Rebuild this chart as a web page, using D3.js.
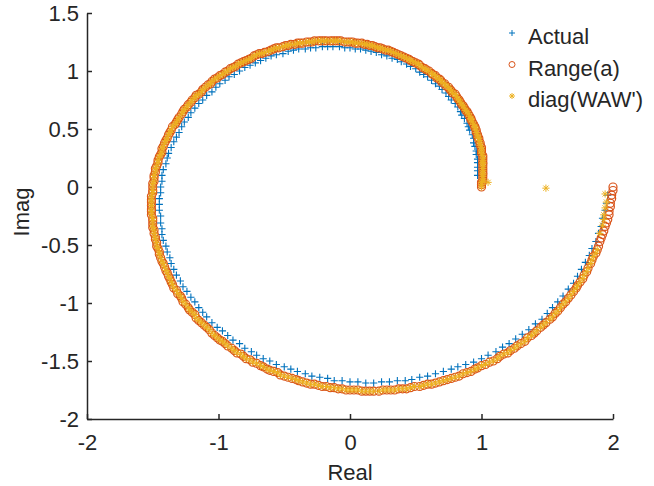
<!DOCTYPE html>
<html>
<head>
<meta charset="utf-8">
<script src="https://cdn.jsdelivr.net/npm/d3@7"></script>
<style>
  body { margin: 0; background: #fff; }
  svg text { font-family: "Liberation Sans", Arial, Helvetica, sans-serif; fill: #262626; }
</style>
</head>
<body>
<div id="chart"></div>
<script>
// Range(a): complex values, [real, imag]
var rangeA = [
[1.00,0.00],[1.00,0.02],[1.00,0.04],[1.01,0.05],[1.01,0.07],[1.01,0.09],[1.01,0.11],[1.01,0.12],[1.01,0.14],[1.01,0.16],
[1.01,0.18],[1.01,0.20],[1.01,0.21],[1.01,0.23],[1.01,0.25],[1.01,0.27],[1.00,0.29],[1.00,0.31],[1.00,0.32],[1.00,0.34],
[0.99,0.36],[0.99,0.38],[0.98,0.40],[0.98,0.42],[0.97,0.43],[0.97,0.45],[0.96,0.47],[0.96,0.49],[0.95,0.51],[0.95,0.52],
[0.94,0.54],[0.93,0.56],[0.92,0.58],[0.92,0.59],[0.91,0.61],[0.90,0.63],[0.89,0.65],[0.88,0.66],[0.87,0.68],[0.86,0.70],
[0.85,0.71],[0.84,0.73],[0.83,0.75],[0.82,0.76],[0.81,0.78],[0.80,0.80],[0.78,0.81],[0.77,0.83],[0.76,0.84],[0.75,0.86],
[0.73,0.87],[0.72,0.89],[0.70,0.90],[0.69,0.92],[0.68,0.93],[0.66,0.94],[0.65,0.96],[0.63,0.97],[0.62,0.98],[0.60,1.00],
[0.58,1.01],[0.57,1.02],[0.55,1.03],[0.53,1.05],[0.52,1.06],[0.50,1.07],[0.48,1.08],[0.46,1.09],[0.45,1.10],[0.43,1.11],
[0.41,1.12],[0.39,1.13],[0.37,1.14],[0.35,1.15],[0.33,1.16],[0.31,1.17],[0.29,1.18],[0.27,1.18],[0.25,1.19],[0.23,1.20],
[0.21,1.20],[0.19,1.21],[0.17,1.22],[0.15,1.22],[0.13,1.23],[0.11,1.23],[0.09,1.24],[0.06,1.24],[0.04,1.24],[0.02,1.25],
[0.00,1.25],[-0.02,1.25],[-0.04,1.25],[-0.07,1.26],[-0.09,1.26],[-0.11,1.26],[-0.13,1.26],[-0.15,1.26],[-0.18,1.26],[-0.20,1.26],
[-0.22,1.26],[-0.24,1.26],[-0.27,1.26],[-0.29,1.25],[-0.31,1.25],[-0.33,1.25],[-0.36,1.24],[-0.38,1.24],[-0.40,1.24],[-0.42,1.23],
[-0.45,1.23],[-0.47,1.22],[-0.49,1.22],[-0.51,1.21],[-0.54,1.20],[-0.56,1.20],[-0.58,1.19],[-0.60,1.18],[-0.62,1.17],[-0.65,1.16],
[-0.67,1.15],[-0.69,1.15],[-0.71,1.14],[-0.73,1.13],[-0.75,1.11],[-0.77,1.10],[-0.79,1.09],[-0.81,1.08],[-0.83,1.07],[-0.85,1.06],
[-0.87,1.04],[-0.89,1.03],[-0.91,1.02],[-0.93,1.00],[-0.95,0.99],[-0.97,0.97],[-0.99,0.96],[-1.01,0.94],[-1.03,0.93],[-1.05,0.91],
[-1.06,0.89],[-1.08,0.88],[-1.10,0.86],[-1.12,0.84],[-1.13,0.82],[-1.15,0.80],[-1.17,0.79],[-1.18,0.77],[-1.20,0.75],[-1.21,0.73],
[-1.23,0.71],[-1.24,0.69],[-1.26,0.67],[-1.27,0.65],[-1.28,0.63],[-1.30,0.60],[-1.31,0.58],[-1.32,0.56],[-1.33,0.54],[-1.35,0.52],
[-1.36,0.49],[-1.37,0.47],[-1.38,0.45],[-1.39,0.42],[-1.40,0.40],[-1.41,0.38],[-1.42,0.35],[-1.43,0.33],[-1.43,0.30],[-1.44,0.28],
[-1.45,0.26],[-1.46,0.23],[-1.46,0.21],[-1.47,0.18],[-1.48,0.16],[-1.48,0.13],[-1.49,0.10],[-1.49,0.08],[-1.49,0.05],[-1.50,0.03],
[-1.50,0.00],[-1.50,-0.03],[-1.50,-0.05],[-1.51,-0.08],[-1.51,-0.11],[-1.51,-0.13],[-1.51,-0.16],[-1.51,-0.19],[-1.51,-0.21],[-1.51,-0.24],
[-1.50,-0.27],[-1.50,-0.29],[-1.50,-0.32],[-1.50,-0.35],[-1.49,-0.37],[-1.49,-0.40],[-1.48,-0.43],[-1.48,-0.45],[-1.47,-0.48],[-1.47,-0.51],
[-1.46,-0.53],[-1.45,-0.56],[-1.45,-0.58],[-1.44,-0.61],[-1.43,-0.64],[-1.42,-0.66],[-1.41,-0.69],[-1.40,-0.72],[-1.39,-0.74],[-1.38,-0.77],
[-1.37,-0.79],[-1.36,-0.82],[-1.35,-0.84],[-1.34,-0.87],[-1.32,-0.89],[-1.31,-0.92],[-1.29,-0.94],[-1.28,-0.96],[-1.27,-0.99],[-1.25,-1.01],
[-1.23,-1.04],[-1.22,-1.06],[-1.20,-1.08],[-1.18,-1.10],[-1.17,-1.13],[-1.15,-1.15],[-1.13,-1.17],[-1.11,-1.19],[-1.09,-1.21],[-1.07,-1.23],
[-1.05,-1.26],[-1.03,-1.28],[-1.01,-1.30],[-0.99,-1.32],[-0.97,-1.33],[-0.95,-1.35],[-0.93,-1.37],[-0.90,-1.39],[-0.88,-1.41],[-0.86,-1.43],
[-0.83,-1.44],[-0.81,-1.46],[-0.79,-1.48],[-0.76,-1.49],[-0.74,-1.51],[-0.71,-1.52],[-0.68,-1.54],[-0.66,-1.55],[-0.63,-1.57],[-0.61,-1.58],
[-0.58,-1.59],[-0.55,-1.60],[-0.53,-1.62],[-0.50,-1.63],[-0.47,-1.64],[-0.44,-1.65],[-0.41,-1.66],[-0.39,-1.67],[-0.36,-1.68],[-0.33,-1.69],
[-0.30,-1.70],[-0.27,-1.70],[-0.24,-1.71],[-0.21,-1.72],[-0.18,-1.72],[-0.15,-1.73],[-0.12,-1.73],[-0.09,-1.74],[-0.06,-1.74],[-0.03,-1.75],
[0.00,-1.75],[0.03,-1.75],[0.06,-1.75],[0.09,-1.76],[0.12,-1.76],[0.15,-1.76],[0.18,-1.76],[0.22,-1.76],[0.25,-1.75],[0.28,-1.75],
[0.31,-1.75],[0.34,-1.75],[0.37,-1.74],[0.40,-1.74],[0.43,-1.74],[0.46,-1.73],[0.49,-1.72],[0.53,-1.72],[0.56,-1.71],[0.59,-1.70],
[0.62,-1.70],[0.65,-1.69],[0.68,-1.68],[0.71,-1.67],[0.74,-1.66],[0.77,-1.65],[0.80,-1.64],[0.83,-1.63],[0.86,-1.61],[0.89,-1.60],
[0.92,-1.59],[0.95,-1.57],[0.97,-1.56],[1.00,-1.54],[1.03,-1.53],[1.06,-1.51],[1.09,-1.50],[1.12,-1.48],[1.14,-1.46],[1.17,-1.44],
[1.20,-1.43],[1.22,-1.41],[1.25,-1.39],[1.27,-1.37],[1.30,-1.35],[1.33,-1.33],[1.35,-1.30],[1.38,-1.28],[1.40,-1.26],[1.42,-1.24],
[1.45,-1.21],[1.47,-1.19],[1.49,-1.17],[1.52,-1.14],[1.54,-1.12],[1.56,-1.09],[1.58,-1.07],[1.60,-1.04],[1.62,-1.01],[1.64,-0.99],
[1.66,-0.96],[1.68,-0.93],[1.70,-0.90],[1.72,-0.87],[1.73,-0.85],[1.75,-0.82],[1.77,-0.79],[1.78,-0.76],[1.80,-0.73],[1.81,-0.70],
[1.83,-0.66],[1.84,-0.63],[1.85,-0.60],[1.87,-0.57],[1.88,-0.54],[1.89,-0.51],[1.90,-0.47],[1.91,-0.44],[1.92,-0.41],[1.93,-0.38],
[1.94,-0.34],[1.95,-0.31],[1.96,-0.28],[1.97,-0.24],[1.97,-0.21],[1.98,-0.17],[1.98,-0.14],[1.99,-0.10],[1.99,-0.07],[2.00,-0.03],
[2.00,0.00]
];

// Actual: sits a little inside the Range(a) curve
var actual = [
[0.97,0.10],[0.97,0.14],[0.97,0.17],[0.97,0.21],[0.97,0.24],[0.96,0.28],[0.96,0.31],[0.95,0.35],[0.94,0.38],[0.94,0.42],
[0.93,0.45],[0.91,0.49],[0.90,0.52],[0.89,0.55],[0.87,0.59],[0.85,0.62],[0.84,0.65],[0.82,0.69],[0.80,0.72],[0.77,0.75],
[0.75,0.78],[0.73,0.81],[0.70,0.84],[0.68,0.87],[0.65,0.89],[0.62,0.92],[0.59,0.95],[0.56,0.97],[0.53,0.99],[0.50,1.02],
[0.46,1.04],[0.43,1.06],[0.39,1.08],[0.36,1.10],[0.32,1.11],[0.28,1.13],[0.24,1.14],[0.20,1.16],[0.16,1.17],[0.12,1.18],
[0.08,1.19],[0.04,1.19],[0.00,1.20],[-0.04,1.20],[-0.08,1.21],[-0.13,1.21],[-0.17,1.21],[-0.21,1.21],[-0.26,1.20],[-0.30,1.20],
[-0.34,1.19],[-0.39,1.19],[-0.43,1.18],[-0.47,1.17],[-0.51,1.15],[-0.56,1.14],[-0.60,1.13],[-0.64,1.11],[-0.68,1.09],[-0.72,1.07],
[-0.76,1.05],[-0.80,1.03],[-0.84,1.00],[-0.88,0.97],[-0.92,0.95],[-0.95,0.92],[-0.99,0.89],[-1.02,0.86],[-1.05,0.82],[-1.09,0.79],
[-1.12,0.75],[-1.15,0.72],[-1.18,0.68],[-1.21,0.64],[-1.23,0.60],[-1.26,0.56],[-1.28,0.52],[-1.30,0.47],[-1.32,0.43],[-1.34,0.39],
[-1.36,0.34],[-1.38,0.29],[-1.39,0.25],[-1.40,0.20],[-1.42,0.15],[-1.43,0.10],[-1.43,0.05],[-1.44,0.00],[-1.44,-0.05],[-1.45,-0.10],
[-1.45,-0.15],[-1.45,-0.20],[-1.44,-0.25],[-1.44,-0.31],[-1.43,-0.36],[-1.43,-0.41],[-1.42,-0.46],[-1.40,-0.51],[-1.39,-0.56],[-1.37,-0.61],
[-1.36,-0.66],[-1.34,-0.71],[-1.32,-0.76],[-1.29,-0.81],[-1.27,-0.86],[-1.24,-0.90],[-1.21,-0.95],[-1.18,-0.99],[-1.15,-1.04],[-1.12,-1.08],
[-1.09,-1.12],[-1.05,-1.17],[-1.01,-1.21],[-0.97,-1.24],[-0.93,-1.28],[-0.89,-1.32],[-0.84,-1.35],[-0.80,-1.39],[-0.75,-1.42],[-0.71,-1.45],
[-0.66,-1.48],[-0.61,-1.50],[-0.56,-1.53],[-0.50,-1.55],[-0.45,-1.57],[-0.40,-1.59],[-0.34,-1.61],[-0.29,-1.63],[-0.23,-1.64],[-0.17,-1.65],
[-0.12,-1.67],[-0.06,-1.67],[0.00,-1.68],[0.06,-1.68],[0.12,-1.69],[0.18,-1.69],[0.24,-1.68],[0.30,-1.68],[0.36,-1.67],[0.42,-1.67],
[0.47,-1.66],[0.53,-1.64],[0.59,-1.63],[0.65,-1.61],[0.71,-1.59],[0.77,-1.57],[0.82,-1.55],[0.88,-1.53],[0.94,-1.51],[1.00,-1.48],
[1.05,-1.45],[1.11,-1.42],[1.16,-1.38],[1.21,-1.35],[1.26,-1.31],[1.31,-1.27],[1.36,-1.23],[1.41,-1.18],[1.46,-1.14],[1.50,-1.09],
[1.54,-1.04],[1.58,-0.99],[1.62,-0.94],[1.66,-0.88],[1.70,-0.83],[1.73,-0.77],[1.76,-0.71],[1.79,-0.65],[1.82,-0.59],[1.84,-0.53],
[1.87,-0.47],[1.89,-0.40],[1.91,-0.34],[1.92,-0.27],[1.94,-0.20],[1.95,-0.14],[1.96,-0.07]
];

// diag(WAW'): on top of Range(a) except a few stray points and the tail
var diagStray = [[1.05,0.04],[1.49,-0.01]];
var diagTail = [[1.90,-0.40],[1.92,-0.33],[1.93,-0.28],[1.93,-0.24],[1.94,-0.18],[1.95,-0.13],[1.94,-0.06]];
var diagWAW = diagStray.concat(rangeA.slice(0, 345), diagTail);

var xTicks = [-2, -1, 0, 1, 2];
var yTicks = [-2, -1.5, -1, -0.5, 0, 0.5, 1, 1.5];
var legendNames = ["Actual", "Range(a)", "diag(WAW')"];

var width = 654, height = 486;
var blue = "#0072BD", orange = "#D95319", yellow = "#EDB120", ink = "#262626";
var fontSize = "22px";

var svg = d3.select("#chart").append("svg")
    .attr("width", width)
    .attr("height", height);

var x = d3.scaleLinear().domain([-2, 2]).range([87, 613]);
var y = d3.scaleLinear().domain([-2, 1.5]).range([419, 13]);

var plusPath = "M-3.6,0H3.6M0,-3.6V3.6";
var starPath = "M-3.6,0H3.6M0,-3.6V3.6M-2.6,-2.6L2.6,2.6M-2.6,2.6L2.6,-2.6";

// Actual (+)
svg.append("g").selectAll("path")
    .data(actual)
  .enter().append("path")
    .attr("transform", function(d) { return "translate(" + x(d[0]) + "," + y(d[1]) + ")"; })
    .attr("d", plusPath)
    .attr("stroke", blue)
    .attr("stroke-width", 1.1)
    .attr("fill", "none");

// Range(a) (o)
svg.append("g").selectAll("circle")
    .data(rangeA)
  .enter().append("circle")
    .attr("cx", function(d) { return x(d[0]); })
    .attr("cy", function(d) { return y(d[1]); })
    .attr("r", 4)
    .attr("stroke", orange)
    .attr("stroke-width", 1.2)
    .attr("fill", "none");

// diag(WAW') (*)
svg.append("g").selectAll("path")
    .data(diagWAW)
  .enter().append("path")
    .attr("transform", function(d) { return "translate(" + x(d[0]) + "," + y(d[1]) + ")"; })
    .attr("d", starPath)
    .attr("stroke", yellow)
    .attr("stroke-width", 1)
    .attr("fill", "none");

// axes, ticks pointing inward
var tickText = function(d) { return String(d); };

var xAxis = svg.append("g")
    .attr("transform", "translate(0,419)")
    .call(d3.axisBottom(x).tickValues(xTicks).tickSizeInner(-5).tickSizeOuter(0).tickFormat(tickText));
xAxis.selectAll("text").attr("y", 31).attr("dy", null).style("font-size", fontSize);

var yAxis = svg.append("g")
    .attr("transform", "translate(87,0)")
    .call(d3.axisLeft(y).tickValues(yTicks).tickSizeInner(-5).tickSizeOuter(0).tickPadding(8).tickFormat(tickText));
yAxis.selectAll("text").attr("dy", "0.35em").style("font-size", fontSize);

svg.selectAll(".domain").attr("stroke", ink).attr("stroke-width", 1.5);
svg.selectAll(".tick line").attr("stroke", ink).attr("stroke-width", 1.5);
svg.selectAll(".tick text").attr("fill", ink).style("font-family", "'Liberation Sans', Arial, sans-serif");

// axis labels
svg.append("text")
    .attr("x", 350).attr("y", 480)
    .attr("text-anchor", "middle")
    .style("font-size", fontSize)
    .text("Real");

svg.append("text")
    .attr("transform", "translate(29,212) rotate(-90)")
    .attr("text-anchor", "middle")
    .style("font-size", fontSize)
    .text("Imag");

// legend
var legend = svg.append("g");
legendNames.forEach(function(name, i) {
  var ly = 44 + i * 31.5;
  var mark = legend.append("g").attr("transform", "translate(512," + (ly - 11) + ")");
  if (i === 0) {
    mark.append("path").attr("d", "M-3,0H3M0,-3V3").attr("stroke", blue).attr("fill", "none");
  } else if (i === 1) {
    mark.append("circle").attr("r", 3).attr("stroke", orange).attr("fill", "none");
  } else {
    mark.append("path").attr("d", "M-3,0H3M0,-3V3M-2.1,-2.1L2.1,2.1M-2.1,2.1L2.1,-2.1").attr("stroke", yellow).attr("fill", "none");
  }
  legend.append("text")
      .attr("x", 528).attr("y", ly)
      .style("font-size", fontSize)
      .text(name);
});
</script>
</body>
</html>
